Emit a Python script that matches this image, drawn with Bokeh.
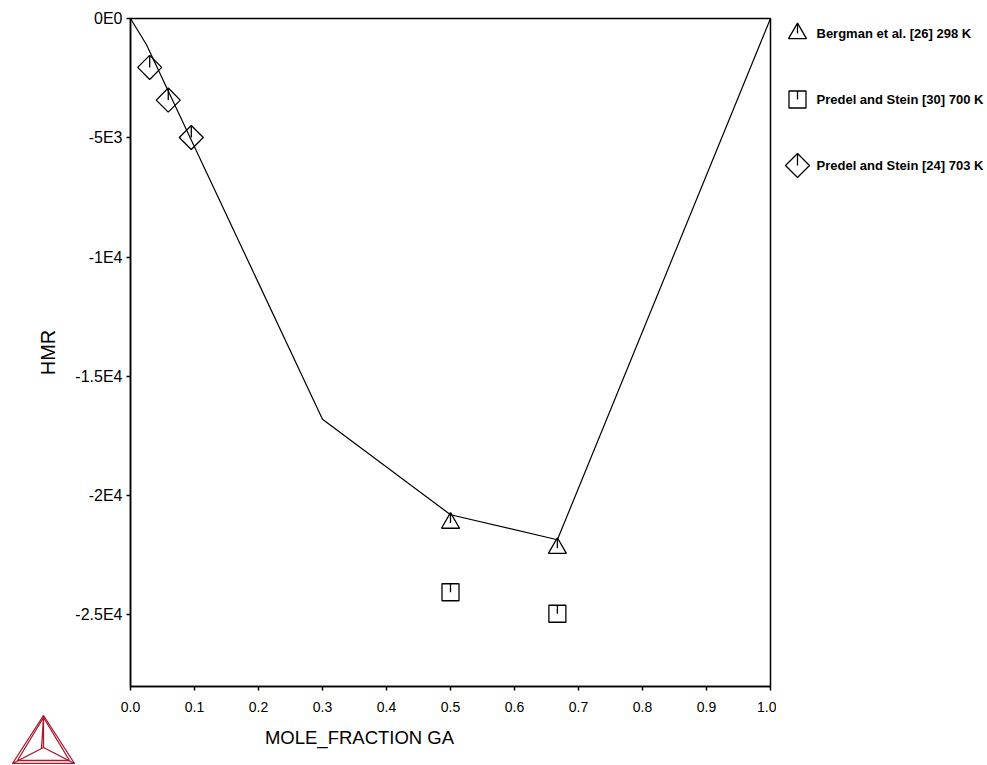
import math
from bokeh.plotting import figure
from bokeh.models import ColumnDataSource, Range1d, FixedTicker
from bokeh.layouts import row, column
from bokeh.core.properties import value
from bokeh.embed import file_html
from bokeh.resources import INLINE

# ---------------- data ----------------
calc_x = [0.0, 0.025, 0.3, 0.5, 0.667, 1.0]
calc_y = [0.0, -1100.0, -16800.0, -20800.0, -21850.0, 0.0]

bergman_x = [0.5, 0.667]
bergman_y = [-21150.0, -22200.0]

predel30_x = [0.5, 0.667]
predel30_y = [-24050.0, -24950.0]

predel24_x = [0.03, 0.059, 0.095]
predel24_y = [-2050.0, -3420.0, -4990.0]

legend_labels = ["Bergman et al. [26] 298 K",
                 "Predel and Stein [30] 700 K",
                 "Predel and Stein [24] 703 K"]

x_ticks = [0.0, 0.1, 0.2, 0.3, 0.4, 0.5, 0.6, 0.7, 0.8, 0.9, 1.0]
x_tick_labels = ["0.0", "0.1", "0.2", "0.3", "0.4", "0.5", "0.6", "0.7", "0.8", "0.9", "1.0"]
y_ticks = [0, -5000, -10000, -15000, -20000, -25000]
y_tick_labels = ["0E0", "-5E3", "-1E4", "-1.5E4", "-2E4", "-2.5E4"]

x_label = "MOLE_FRACTION GA"
y_label = "HMR"

# ---------------- styles ----------------
FONT = "Liberation Sans"
LOGO = "#A6192E"
MAIN_W, MAIN_H = 776, 714
LEG_W = 210
BOT_H = 50

p = figure(frame_width=640, frame_height=668,
           min_border_left=130, min_border_right=6,
           min_border_top=18, min_border_bottom=28,
           x_range=Range1d(0, 1), y_range=Range1d(-28000, 0),
           output_backend="svg", toolbar_location=None,
           background_fill_color="white", border_fill_color="white")
p.grid.visible = False
p.outline_line_color = "black"
p.outline_line_width = 1.5
p.outline_line_alpha = 1.0

xa = p.xaxis[0]
xa.ticker = FixedTicker(ticks=x_ticks)
xa.major_label_overrides = {t: l for t, l in zip(x_ticks, x_tick_labels)}
xa.major_label_text_font = FONT
xa.major_label_text_font_size = "14px"
xa.major_label_standoff = 11
ya = p.yaxis[0]
ya.ticker = FixedTicker(ticks=y_ticks)
ya.major_label_overrides = {t: l for t, l in zip(y_ticks, y_tick_labels)}
ya.major_label_text_font = FONT
ya.major_label_text_font_size = "16px"
ya.major_label_standoff = 4
ya.axis_label = y_label
ya.axis_label_text_font = FONT
ya.axis_label_text_font_style = "normal"
ya.axis_label_text_font_size = "20px"
ya.axis_label_text_color = "black"
ya.axis_label_standoff = 13
for ax in (xa, ya):
    ax.axis_line_color = "black"
    ax.axis_line_width = 1.5
    ax.major_tick_line_color = "black"
    ax.major_tick_line_width = 1.5
    ax.major_tick_out = 4
    ax.major_tick_in = 0
    ax.minor_tick_line_color = None
    ax.major_label_text_color = "black"

# calculated curve
p.line(calc_x, calc_y, line_color="black", line_width=1.2)

def marker_set(fig, xs, ys, marker, size, angle, tick):
    src = ColumnDataSource(dict(x=xs, y=ys))
    fig.scatter("x", "y", source=src, marker=marker, size=size, angle=angle,
                fill_color=None, line_color="black", line_width=1.3)
    fig.ray("x", "y", source=src, length=tick, length_units="screen",
            angle=math.pi / 2, line_color="black", line_width=1.3)

marker_set(p, bergman_x, bergman_y, "triangle", 18, 0.0, 10)
marker_set(p, predel30_x, predel30_y, "square", 17, 0.0, 8.5)
marker_set(p, predel24_x, predel24_y, "square", 17, math.pi / 4, 12)

# ---------------- legend panel ----------------
leg = figure(frame_width=LEG_W, frame_height=MAIN_H,
             x_range=Range1d(0, LEG_W), y_range=Range1d(MAIN_H, 0),
             x_axis_location=None, y_axis_location=None,
             output_backend="svg", toolbar_location=None,
             min_border=0, background_fill_color="white", border_fill_color="white")
leg.grid.visible = False
leg.outline_line_color = None

n = len(legend_labels)
leg_src = ColumnDataSource(dict(x=[21] * n, y=[15 + 66 * i for i in range(n)],
                                marker=["triangle", "square", "square"],
                                size=[18, 17, 17],
                                angle=[0.0, 0.0, math.pi / 4],
                                tick=[10, 8.5, 12],
                                label=legend_labels,
                                tx=[40] * n))
leg.scatter("x", "y", source=leg_src, marker="marker", size="size", angle="angle",
            fill_color=None, line_color="black", line_width=1.3)
leg.ray("x", "y", source=leg_src, length="tick", length_units="screen",
        angle=math.pi / 2, line_color="black", line_width=1.3)
leg.text("tx", "y", text="label", source=leg_src, text_font=value(FONT),
         text_font_style="bold", text_font_size="13px", text_baseline="middle",
         text_color="black")

# ---------------- bottom strip: x-axis title and logo ----------------
BOT_W = MAIN_W + LEG_W
bot = figure(frame_width=BOT_W, frame_height=BOT_H,
             x_range=Range1d(0, BOT_W), y_range=Range1d(BOT_H, 0),
             x_axis_location=None, y_axis_location=None,
             output_backend="svg", toolbar_location=None,
             min_border=0, background_fill_color="white", border_fill_color="white")
bot.grid.visible = False
bot.outline_line_color = None
bot.text(x=[359], y=[23], text=[x_label], text_font=value(FONT),
         text_font_size="18.5px", text_align="center", text_baseline="middle",
         text_color="black")

# Thermo-Calc style logo (decoration)
A = (43, 1); B = (12, 49); C = (74, 49); O = (43, 33)
logo_xs = [
    [A[0], B[0], C[0], A[0]],
    [A[0], B[0] + 5, C[0] - 5, A[0]],
    [A[0], O[0]], [A[0], O[0] - 2],
    [O[0], B[0]], [O[0], C[0]],
]
logo_ys = [
    [A[1], B[1], C[1], A[1]],
    [A[1] + 2, B[1] - 3, C[1] - 3, A[1] + 2],
    [A[1], O[1]], [A[1] + 3, O[1] + 1],
    [O[1], B[1]], [O[1], C[1]],
]
bot.multi_line(logo_xs, logo_ys, line_color=LOGO, line_width=1.3)

layout = column(row(p, leg), bot)
open("out.html", "w").write(file_html(layout, INLINE))
